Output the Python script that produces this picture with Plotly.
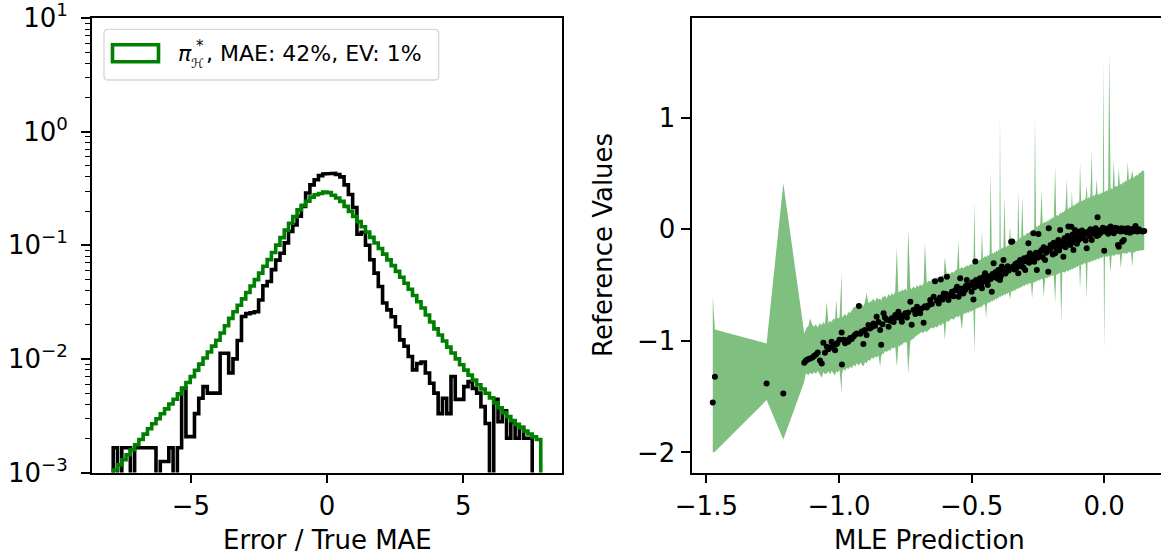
import numpy as np
import plotly.graph_objects as go

# ---------------- left panel: error distributions ----------------
BIN_LO, BIN_HI, N_BINS = -7.85, 7.85, 100

# empirical density of error / true MAE (black)
err_density = [
    1.65e-3, 0, 1.65e-3, 1.65e-3, 0, 1.65e-3, 1.65e-3, 1.65e-3, 1.65e-3, 1.65e-3,
    0, 1.25e-3, 1.25e-3, 1.65e-3, 0, 1.65e-3, 5.5e-3, 2.07e-3, 2.07e-3, 3.3e-3,
    4.5e-3, 5.7e-3, 5.0e-3, 5.0e-3, 5.0e-3, 1.12e-2, 1.12e-2, 7.5e-3, 1.0e-2, 1.45e-2,
    2.36e-2, 2.5e-2, 2.55e-2, 2.6e-2, 3.3e-2, 4.4e-2, 4.8e-2, 6.1e-2, 7.4e-2, 8.5e-2,
    0.105, 0.132, 0.151, 0.18, 0.22, 0.288, 0.34, 0.377, 0.41, 0.425,
    0.43, 0.43, 0.42, 0.40, 0.34, 0.28, 0.215, 0.125, 0.13, 0.10,
    0.0745, 0.0568, 0.0433, 0.031, 0.027, 0.0235, 0.0192, 0.0147, 0.0129, 0.0105,
    0.008, 0.0091, 0.0094, 0.0075, 0.0061, 0.005, 0.0033, 0.0045, 0.0033, 0.007,
    0.0044, 0.0044, 0.0057, 0.0063, 0.0055, 0.005, 0.0038, 0.0027, 0, 0.0044,
    0.0028, 0.0035, 0.002, 0.0028, 0.002, 0.0025, 0.002, 0.002, 0, 0,
]

# predicted density under pi*_H (green)
model_density = [
    1.052e-3, 1.167e-3, 1.294e-3, 1.432e-3, 1.585e-3, 1.754e-3, 1.954e-3, 2.178e-3, 2.427e-3, 2.687e-3,
    2.972e-3, 3.289e-3, 3.631e-3, 4.009e-3, 4.416e-3, 4.92e-3, 5.52e-3, 6.19e-3, 6.98e-3, 7.93e-3,
    8.99e-3, 1.019e-2, 1.148e-2, 1.294e-2, 1.459e-2, 1.690e-2, 1.959e-2, 2.27e-2, 2.60e-2, 2.96e-2,
    3.37e-2, 3.84e-2, 4.38e-2, 4.98e-2, 5.69e-2, 6.53e-2, 7.48e-2, 8.63e-2, 0.1002, 0.1167,
    0.1358, 0.156, 0.1786, 0.205, 0.2244, 0.2438, 0.265, 0.278, 0.2858, 0.2944,
    0.2904, 0.2754, 0.2606, 0.2432, 0.2198, 0.1986, 0.1795, 0.1614, 0.1455, 0.131,
    0.1172, 0.1047, 0.0936, 0.0835, 0.0743, 0.0662, 0.0589, 0.0523, 0.0463, 0.041,
    0.0361, 0.0318, 0.028, 0.0243, 0.0211, 0.01836, 0.0162, 0.01435, 0.01268, 0.01125,
    0.0100, 0.00887, 0.00796, 0.0072, 0.0065, 0.00592, 0.00543, 0.00498, 0.00454, 0.0041,
    0.00371, 0.00336, 0.0031, 0.00286, 0.00265, 0.00248, 0.00232, 0.00218, 0.00206, 0.00195,
]

legend_label = "MAE: 42%, EV: 1%"

# ---------------- right panel: calibration scatter ----------------
mle_pred = [
    -1.476, -1.468, -1.273, -1.210,
    -1.131, -1.126, -1.122, -1.116, -1.109, -1.100, -1.094, -1.087, -1.080, -1.072,
    -1.065, -1.059, -1.053, -1.046, -1.040, -1.033, -1.028, -1.021, -1.015, -1.010,
    -1.006, -0.998, -0.990, -0.989, -0.983, -0.977, -0.971, -0.965, -0.958, -0.952,
    -0.945, -0.939, -0.933, -0.925, -0.920, -0.914, -0.908, -0.902, -0.896, -0.889,
    -0.883, -0.876, -0.870, -0.864, -0.858, -0.851, -0.845, -0.841, -0.836, -0.832,
    -0.827, -0.820, -0.813, -0.807, -0.801, -0.794, -0.788, -0.782, -0.776, -0.771,
    -0.766, -0.763, -0.757, -0.750, -0.744, -0.739, -0.731, -0.726, -0.719, -0.712,
    -0.706, -0.700, -0.694, -0.688, -0.681, -0.676, -0.669, -0.662, -0.656, -0.650,
    -0.643, -0.638, -0.630, -0.624, -0.619, -0.616, -0.609, -0.605, -0.601, -0.596,
    -0.593, -0.587, -0.581, -0.574, -0.568, -0.562, -0.555, -0.549, -0.546, -0.543,
    -0.537, -0.531, -0.524, -0.521, -0.518, -0.512, -0.505, -0.500, -0.496, -0.493,
    -0.489, -0.486, -0.483, -0.480, -0.475, -0.471, -0.468, -0.464, -0.461, -0.457,
    -0.453, -0.449, -0.445, -0.442, -0.439, -0.436, -0.432, -0.428, -0.424, -0.421,
    -0.417, -0.414, -0.410, -0.405, -0.402, -0.399, -0.395, -0.393, -0.390, -0.386,
    -0.383, -0.380, -0.376, -0.372, -0.368, -0.364, -0.360, -0.355, -0.351, -0.347,
    -0.343, -0.339, -0.335, -0.331, -0.327, -0.324, -0.320, -0.317, -0.313, -0.309,
    -0.305, -0.302, -0.298, -0.294, -0.290, -0.286, -0.283, -0.280, -0.276, -0.272,
    -0.267, -0.264, -0.261, -0.257, -0.254, -0.251, -0.248, -0.245, -0.241, -0.236,
    -0.232, -0.228, -0.223, -0.219, -0.215, -0.211, -0.209, -0.205, -0.202, -0.198,
    -0.194, -0.190, -0.185, -0.181, -0.177, -0.173, -0.170, -0.166, -0.162, -0.158,
    -0.154, -0.150, -0.146, -0.141, -0.138, -0.135, -0.131, -0.127, -0.124, -0.122,
    -0.119, -0.116, -0.113, -0.110, -0.106, -0.103, -0.100, -0.097, -0.094, -0.091,
    -0.087, -0.084, -0.081, -0.078, -0.074, -0.070, -0.066, -0.063, -0.059, -0.056,
    -0.052, -0.047, -0.044, -0.040, -0.036, -0.032, -0.028, -0.025, -0.021, -0.017,
    -0.013, -0.009, -0.005, -0.002, 0.000, 0.003, 0.007, 0.011, 0.015, 0.019,
    0.024, 0.028, 0.032, 0.036, 0.040, 0.045, 0.049, 0.052, 0.055, 0.059,
    0.062, 0.066, 0.068, 0.071, 0.074, 0.078, 0.081, 0.085, 0.089, 0.093,
    0.097, 0.101, 0.106, 0.110, 0.114, 0.118, 0.122, 0.125, 0.131, 0.138,
    0.145, 0.151,
]

ref_vals = [
    -1.552, -1.322, -1.381, -1.471,
    -1.196, -1.180, -1.172, -1.165, -1.157, -1.150, -1.135, -1.121, -1.105, -1.175,
    -1.202, -1.017, -1.107, -1.053, -1.075, -1.060, -1.008, -1.040, -1.083, -1.030,
    -1.020, -0.990, -0.924, -1.211, -0.990, -1.022, -0.995, -1.008, -0.975, -0.984,
    -0.960, -0.945, -0.933, -0.688, -0.935, -0.915, -1.029, -0.903, -0.948, -0.858,
    -0.890, -0.875, -0.843, -0.865, -0.783, -0.830, -0.903, -1.035, -0.850, -0.753,
    -0.790, -0.810, -0.873, -0.820, -0.798, -0.830, -0.768, -0.790, -0.738, -0.768,
    -0.800, -0.828, -0.775, -0.753, -0.790, -0.745, -0.649, -0.855, -0.723, -0.760,
    -0.694, -0.735, -0.753, -0.710, -0.838, -0.690, -0.700, -0.680, -0.634, -0.670,
    -0.604, -0.465, -0.640, -0.664, -0.610, -0.450, -0.630, -0.574, -0.600, -0.580,
    -0.424, -0.634, -0.590, -0.559, -0.600, -0.545, -0.514, -0.604, -0.560, -0.439,
    -0.530, -0.575, -0.544, -0.505, -0.454, -0.520, -0.499, -0.560, -0.475, -0.628,
    -0.520, -0.289, -0.455, -0.484, -0.505, -0.470, -0.439, -0.500, -0.529, -0.455,
    -0.420, -0.394, -0.470, -0.435, -0.500, -0.454, -0.420, -0.445, -0.559, -0.400,
    -0.304, -0.430, -0.385, -0.409, -0.440, -0.364, -0.395, -0.454, -0.420, -0.334,
    -0.370, -0.274, -0.355, -0.395, -0.364, -0.330, -0.370, -0.345, -0.112, -0.108,
    -0.334, -0.360, -0.310, -0.345, -0.300, -0.394, -0.320, -0.274, -0.330, -0.290,
    -0.340, -0.260, -0.364, -0.285, -0.250, -0.125, -0.300, -0.215, -0.265, -0.240,
    -0.035, -0.290, -0.245, -0.210, -0.364, -0.255, -0.041, -0.230, -0.200, -0.185,
    -0.250, -0.160, -0.274, -0.210, -0.175, -0.379, 0.010, -0.190, -0.140, -0.155,
    -0.225, -0.120, -0.215, -0.170, -0.130, -0.095, -0.190, -0.005, -0.150, -0.110,
    -0.245, -0.080, -0.160, -0.125, -0.060, 0.025, -0.100, -0.140, 0.024, -0.080,
    -0.045, -0.185, -0.110, -0.005, -0.065, -0.130, -0.030, -0.095, -0.050, -0.020,
    -0.080, -0.010, -0.045, -0.065, -0.025, -0.100, -0.170, -0.030, -0.020, -0.060,
    0.000, -0.095, -0.040, -0.005, -0.030, 0.010, -0.060, 0.109, -0.050, -0.010,
    -0.030, -0.005, 0.015, -0.015, -0.191, -0.020, 0.005, -0.020, -0.040, 0.010,
    0.025, -0.010, 0.000, -0.035, 0.015, -0.015, 0.010, -0.140, -0.155, -0.005,
    -0.020, 0.010, -0.110, -0.015, -0.095, 0.005, -0.005, -0.025, 0.010, -0.005,
    -0.030, 0.000, -0.020, 0.005, -0.015, 0.031, -0.010, -0.020, 0.000, -0.015,
    -0.020, -0.014,
]

# per-prediction interval bounds
lo_bound = [
    -2.000, -1.995, -1.531, -1.884,
    -1.367, -1.300, -1.290, -1.310, -1.285, -1.300, -1.280, -1.295, -1.270, -1.310,
    -1.330, -1.280, -1.300, -1.290, -1.275, -1.300, -1.270, -1.290, -1.310, -1.270,
    -1.285, -1.260, -1.470, -1.300, -1.250, -1.270, -1.240, -1.255, -1.230, -1.245,
    -1.215, -1.230, -1.200, -1.220, -1.195, -1.210, -1.230, -1.190, -1.200, -1.170,
    -1.180, -1.150, -1.160, -1.140, -1.150, -1.130, -1.230, -1.140, -1.110, -1.120,
    -1.090, -1.100, -1.080, -1.090, -1.060, -1.070, -1.050, -1.230, -1.040, -1.050,
    -1.030, -1.040, -1.020, -1.010, -1.020, -1.290, -1.000, -0.990, -0.980, -0.960,
    -0.950, -0.940, -0.930, -0.920, -0.930, -0.910, -0.920, -0.900, -0.890, -0.880,
    -0.890, -0.870, -0.880, -0.860, -0.850, -0.870, -0.840, -0.850, -0.990, -0.830,
    -0.820, -0.830, -0.810, -0.800, -0.810, -0.790, -0.780, -0.790, -0.770, -0.780,
    -0.900, -0.760, -0.750, -0.760, -0.740, -0.750, -0.730, -0.740, -0.720, -0.730,
    -1.110, -0.710, -0.720, -0.700, -0.710, -0.700, -0.690, -0.700, -0.690, -0.680,
    -0.670, -0.680, -0.800, -0.660, -0.670, -0.650, -0.660, -0.650, -0.640, -0.650,
    -0.630, -0.640, -0.620, -0.630, -0.610, -0.620, -0.600, -0.610, -0.600, -0.590,
    -0.600, -0.590, -0.580, -0.590, -0.570, -0.580, -0.560, -0.630, -0.560, -0.550,
    -0.560, -0.540, -0.550, -0.530, -0.540, -0.530, -0.520, -0.530, -0.510, -0.520,
    -0.500, -0.510, -0.500, -0.490, -0.500, -0.490, -0.480, -0.490, -0.480, -0.620,
    -0.470, -0.480, -0.470, -0.460, -0.470, -0.460, -0.450, -0.460, -0.450, -0.440,
    -0.450, -0.600, -0.440, -0.430, -0.440, -0.430, -0.420, -0.430, -0.420, -0.410,
    -0.420, -0.410, -0.660, -0.400, -0.410, -0.400, -0.390, -0.400, -0.840, -0.390,
    -0.380, -0.390, -0.380, -0.370, -0.380, -0.370, -0.360, -0.370, -0.360, -0.350,
    -0.360, -0.350, -0.340, -0.350, -0.340, -0.330, -0.340, -0.330, -0.320, -0.540,
    -0.320, -0.310, -0.320, -0.310, -0.300, -0.310, -0.630, -0.300, -0.290, -0.300,
    -0.290, -0.280, -0.290, -0.280, -0.270, -0.280, -0.270, -0.260, -0.270, -0.260,
    -0.250, -0.260, -0.250, -0.240, -1.080, -0.250, -0.240, -0.250, -0.240, -0.230,
    -0.390, -0.240, -0.230, -0.240, -0.230, -0.220, -0.230, -0.220, -0.230, -0.220,
    -0.350, -0.220, -0.210, -0.220, -0.210, -0.220, -0.210, -0.220, -0.210, -0.200,
    -0.210, -0.200, -0.335, -0.200, -0.210, -0.200, -0.190, -0.200, -0.190, -0.190,
    -0.185, -0.185,
]

hi_bound = [
    -0.604, -0.897, -1.023, 0.414,
    -0.933, -0.900, -0.880, -0.870, -0.800, -0.860, -0.870, -0.850, -0.880, -0.840,
    -0.860, -0.830, -0.850, -0.650, -0.840, -0.820, -0.830, -0.800, -0.810, -0.630,
    -0.800, -0.790, -0.390, -0.790, -0.770, -0.760, -0.780, -0.740, -0.750, -0.720,
    -0.700, -0.690, -0.710, -0.660, -0.700, -0.670, -0.690, -0.650, -0.570, -0.660,
    -0.650, -0.640, -0.620, -0.650, -0.610, -0.630, -0.620, -0.640, -0.600, -0.610,
    -0.590, -0.620, -0.580, -0.600, -0.570, -0.590, -0.560, -0.160, -0.570, -0.550,
    -0.560, -0.540, -0.550, -0.530, -0.550, 0.000, -0.520, -0.540, -0.510, -0.530,
    -0.500, -0.520, -0.490, -0.510, -0.480, -0.120, -0.480, -0.460, -0.470, -0.450,
    -0.440, -0.450, -0.430, -0.440, -0.420, -0.430, -0.410, -0.420, -0.250, -0.400,
    -0.410, -0.390, -0.400, -0.380, -0.390, -0.370, -0.360, -0.100, -0.360, -0.350,
    -0.340, -0.350, -0.330, -0.340, -0.320, -0.330, -0.310, -0.320, -0.300, -0.310,
    0.250, -0.290, -0.300, -0.280, -0.290, -0.270, -0.280, -0.260, -0.010, -0.260,
    -0.250, -0.240, -0.250, -0.240, -0.230, -0.240, -0.220, 0.530, -0.220, -0.210,
    -0.220, -0.200, -0.210, -0.190, -0.200, -0.180, -0.190, 1.040, -0.180, -0.170,
    -0.160, -0.170, 0.300, -0.150, -0.160, -0.140, -0.150, 0.020, -0.130, -0.120,
    -0.110, -0.120, -0.100, -0.110, -0.090, 0.350, -0.090, -0.070, -0.080, 0.290,
    -0.060, -0.050, -0.060, -0.040, -0.030, -0.040, -0.020, -0.030, -0.010, -0.020,
    0.000, 0.010, 1.010, 0.020, 0.030, 0.020, 0.040, 0.030, 0.050, 0.350,
    0.050, 0.060, 0.070, 0.060, 0.080, 0.070, 0.090, 0.080, 0.100, 0.090,
    0.110, 0.100, 0.560, 0.120, 0.130, 0.120, 0.140, 0.150, 0.140, 0.160,
    0.150, 0.170, 0.180, 0.450, 0.190, 0.180, 0.200, 0.190, 0.210, 0.350,
    0.200, 0.220, 0.210, 0.230, 0.220, 0.240, 0.230, 0.250, 0.240, 0.600,
    0.250, 0.260, 0.250, 0.270, 0.260, 0.280, 0.400, 0.270, 0.290, 0.280,
    0.300, 0.710, 0.290, 0.310, 0.300, 0.320, 0.450, 0.310, 0.320, 0.310,
    0.330, 0.320, 0.340, 1.520, 0.330, 0.340, 0.350, 0.340, 0.360, 1.600,
    0.350, 0.370, 0.360, 0.620, 0.380, 0.390, 0.380, 0.400, 0.550, 0.400,
    0.410, 0.400, 0.420, 0.410, 0.430, 0.420, 0.440, 0.430, 0.600, 0.440,
    0.450, 0.460, 0.530, 0.460, 0.470, 0.480, 0.490, 0.480, 0.500, 0.510,
    0.530, 0.518,
]

# ---------------- figure ----------------
W, H = 1161, 554
FONT = "DejaVu Sans"
GREEN = "#008000"
LINE_W = 3.6


def px(x):
    return x / W


def py(y):
    return 1 - y / H


edges = np.linspace(BIN_LO, BIN_HI, N_BINS + 1)
LOG_FLOOR = 1e-9  # empty bins drop below the visible log range


def step_outline(vals):
    xs, ys = [edges[0]], [LOG_FLOOR]
    for i, v in enumerate(vals):
        v = v if v > 0 else LOG_FLOOR
        xs += [edges[i], edges[i + 1]]
        ys += [v, v]
    xs.append(edges[-1])
    ys.append(LOG_FLOOR)
    return xs, ys


fig = go.Figure()

ex, ey = step_outline(err_density)
fig.add_trace(go.Scatter(x=ex, y=ey, mode="lines", xaxis="x", yaxis="y",
                         line=dict(color="black", width=LINE_W), hoverinfo="skip"))
mx, my = step_outline(model_density)
fig.add_trace(go.Scatter(x=mx, y=my, mode="lines", xaxis="x", yaxis="y",
                         line=dict(color=GREEN, width=LINE_W), hoverinfo="skip"))

fig.add_trace(go.Scatter(x=mle_pred, y=hi_bound, mode="lines", xaxis="x2", yaxis="y2",
                         line=dict(width=0, color="rgba(0,128,0,0)"), hoverinfo="skip"))
fig.add_trace(go.Scatter(x=mle_pred, y=lo_bound, mode="lines", xaxis="x2", yaxis="y2",
                         line=dict(width=0, color="rgba(0,128,0,0)"),
                         fill="tonexty", fillcolor="rgba(0,128,0,0.5)", hoverinfo="skip"))
fig.add_trace(go.Scatter(x=mle_pred, y=ref_vals, mode="markers", xaxis="x2", yaxis="y2",
                         marker=dict(color="black", size=6, line=dict(width=0))))

axis_common = dict(
    showline=True, linecolor="black", linewidth=1.8,
    ticks="outside", ticklen=9, tickwidth=1.6, tickcolor="black",
    showgrid=False, zeroline=False,
    tickfont=dict(family=FONT, size=26, color="black"),
)

x_dom_left = [px(92), px(562)]
x_dom_right = [px(691.5), 1.0]
y_dom = [py(472.5), py(18)]

minor_vals = [m * 10.0 ** e for e in range(-3, 1) for m in range(2, 10)]

fig.update_layout(
    width=W, height=H,
    margin=dict(l=0, r=0, t=0, b=0),
    template="none",
    paper_bgcolor="white", plot_bgcolor="white",
    showlegend=False,
    font=dict(family=FONT, size=26, color="black"),
    xaxis=dict(domain=x_dom_left, range=[-8.63, 8.63], anchor="y", mirror=True,
               tickmode="array", tickvals=[-5, 0, 5], ticktext=["−5", "0", "5"],
               **axis_common),
    yaxis=dict(domain=y_dom, type="log", range=[-3, 1], anchor="x", mirror=True,
               tickmode="array", tickvals=[1e-3, 1e-2, 1e-1, 1, 10],
               ticktext=["10<sup>−3</sup>", "10<sup>−2</sup>", "10<sup>−1</sup>",
                         "10<sup>0</sup>", "10<sup>1</sup>"],
               ticklabeloverflow="allow", ticklabelstandoff=8,
               minor=dict(tickmode="array", tickvals=minor_vals, ticks="outside",
                          ticklen=5, tickwidth=1.2, tickcolor="black", showgrid=False),
               **axis_common),
    xaxis2=dict(domain=x_dom_right, range=[-1.5562, 0.2142], anchor="y2", mirror=True,
                tickmode="array", tickvals=[-1.5, -1.0, -0.5, 0.0],
                ticktext=["−1.5", "−1.0", "−0.5", "0.0"], **axis_common),
    yaxis2=dict(domain=y_dom, range=[-2.18, 1.895], anchor="x2", mirror=False,
                tickmode="array", tickvals=[-2, -1, 0, 1],
                ticktext=["−2", "−1", "0", "1"], **axis_common),
)

# axis titles
annotations = [
    dict(x=px(327), y=py(540), text="Error / True MAE", xanchor="center", yanchor="middle"),
    dict(x=px(929.5), y=py(540), text="MLE Prediction", xanchor="center", yanchor="middle"),
    dict(x=px(603), y=py(245), text="Reference Values", textangle=-90,
         xanchor="center", yanchor="middle"),
]
for a in annotations:
    a.update(xref="paper", yref="paper", showarrow=False,
             font=dict(family=FONT, size=26, color="black"))

# legend: frame, outlined patch handle and label
lx0, lx1, ly0, ly1, r = 104, 438.7, 29.3, 80, 4
rx, ry = r / W, r / H
X0, X1, Yt, Yb = px(lx0), px(lx1), py(ly0), py(ly1)
frame_path = (
    f"M {X0 + rx},{Yt} L {X1 - rx},{Yt} Q {X1},{Yt} {X1},{Yt - ry} "
    f"L {X1},{Yb + ry} Q {X1},{Yb} {X1 - rx},{Yb} L {X0 + rx},{Yb} "
    f"Q {X0},{Yb} {X0},{Yb + ry} L {X0},{Yt - ry} Q {X0},{Yt} {X0 + rx},{Yt} Z"
)
shapes = [
    dict(type="path", path=frame_path, xref="paper", yref="paper",
         line=dict(color="rgb(214,214,214)", width=1.3), fillcolor="white"),
    dict(type="rect", xref="paper", yref="paper",
         x0=px(112.5), x1=px(158.5), y0=py(61.8), y1=py(44.8),
         line=dict(color=GREEN, width=LINE_W), fillcolor="rgba(0,0,0,0)"),
]
legend_texts = [
    dict(x=px(176), y=py(53.5), text="<i>π</i>", size=22),
    dict(x=px(193.5), y=py(46), text="*", size=15),
    dict(x=px(189), y=py(63.5), text="ℋ", size=13),
    dict(x=px(204), y=py(53.5), text=", " + legend_label, size=22),
]
for t in legend_texts:
    annotations.append(dict(x=t["x"], y=t["y"], text=t["text"], xref="paper", yref="paper",
                            xanchor="left", yanchor="middle", showarrow=False,
                            font=dict(family=FONT, size=t["size"], color="black")))

fig.update_layout(annotations=annotations, shapes=shapes)

fig.write_html("out.html")
